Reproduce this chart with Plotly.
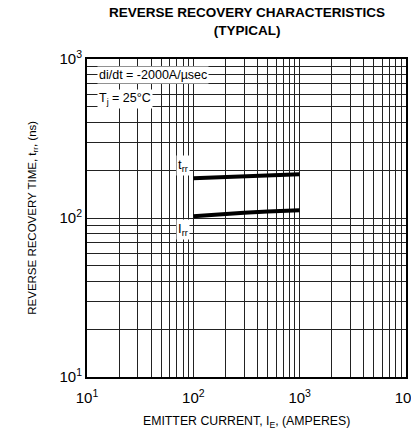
import plotly.graph_objects as go

# Data
current_a = [100, 200, 300, 500, 700, 1000]
trr_ns = [177.7, 180.5, 182.5, 185.0, 186.8, 188.3]
irr_curr = [100, 150, 200, 300, 500, 700, 1000]
irr_vals = [102.5, 105.0, 106.5, 108.0, 110.0, 111.0, 111.8]

x_decades = [10, 100, 1000, 10000]
x_decade_labels = ["10<sup>1</sup>", "10<sup>2</sup>", "10<sup>3</sup>", "10<sup>4</sup>"]
y_decades = [10, 100, 1000]
y_decade_labels = ["10<sup>1</sup>", "10<sup>2</sup>", "10<sup>3</sup>"]
x_minor = [m * 10 ** e for e in range(1, 4) for m in range(2, 10)]
y_minor = [m * 10 ** e for e in range(1, 3) for m in range(2, 10)]

FONT = "Liberation Sans, Arial, sans-serif"
GRID = dict(showgrid=True, gridcolor="#222", gridwidth=1)

fig = go.Figure()
fig.add_trace(go.Scatter(x=current_a, y=trr_ns, mode="lines",
                         line=dict(color="black", width=4), showlegend=False))
fig.add_trace(go.Scatter(x=irr_curr, y=irr_vals, mode="lines",
                         line=dict(color="black", width=4), showlegend=False))

fig.update_xaxes(type="log", range=[1, 4], tickmode="array",
                 tickvals=x_decades, ticktext=x_decade_labels,
                 minor=dict(tickmode="array", tickvals=x_minor, ticks="", **GRID),
                 **GRID,
                 showline=True, linecolor="black", linewidth=2, mirror=True,
                 ticks="", zeroline=False, automargin=False,
                 ticklabeloverflow="allow", ticklabelstandoff=6,
                 tickfont=dict(family=FONT, size=15, color="black"))
fig.update_yaxes(type="log", range=[1, 3], tickmode="array",
                 tickvals=y_decades, ticktext=y_decade_labels,
                 minor=dict(tickmode="array", tickvals=y_minor, ticks="", **GRID),
                 **GRID,
                 showline=True, linecolor="black", linewidth=2, mirror=True,
                 ticks="", zeroline=False, automargin=False,
                 ticklabeloverflow="allow",
                 tickfont=dict(family=FONT, size=15, color="black"))

annotations = [
    dict(text="<b>REVERSE RECOVERY CHARACTERISTICS<br>(TYPICAL)</b>", x=0.5,
         y=1 + 37 / 318, xanchor="center", yanchor="middle", font=dict(size=13.5)),
    dict(text="di/dt = -2000A/µsec", x=0.03, y=0.95, xanchor="left", yanchor="middle",
         font=dict(size=12.5), bgcolor="white", borderpad=1),
    dict(text="T<sub>j</sub> = 25°C", x=0.03, y=0.875, xanchor="left", yanchor="middle",
         font=dict(size=12.5), bgcolor="white", borderpad=1),
    dict(text="t<sub>rr</sub>", x=0.30, y=0.665, xanchor="center", yanchor="middle",
         font=dict(size=13), bgcolor="white", borderpad=1),
    dict(text="I<sub>rr</sub>", x=0.30, y=0.465, xanchor="center", yanchor="middle",
         font=dict(size=13), bgcolor="white", borderpad=1),
    dict(text="EMITTER CURRENT, I<sub>E</sub>, (AMPERES)", x=0.5, y=-0.14,
         xanchor="center", yanchor="middle", font=dict(size=12.3)),
    dict(text="REVERSE RECOVERY TIME, t<sub>rr</sub>, (ns)", x=-0.17, y=0.5,
         xanchor="center", yanchor="middle", textangle=-90, font=dict(size=11.5)),
]
for a in annotations:
    a.update(xref="paper", yref="paper", showarrow=False)
    a["font"].update(family=FONT, color="black")

fig.update_layout(
    width=411, height=430,
    margin=dict(l=87, r=5, t=59, b=53),
    paper_bgcolor="white", plot_bgcolor="white",
    annotations=annotations,
)

fig.write_html("out.html", config={"displayModeBar": False},
               post_script="document.body.style.margin='0';")
